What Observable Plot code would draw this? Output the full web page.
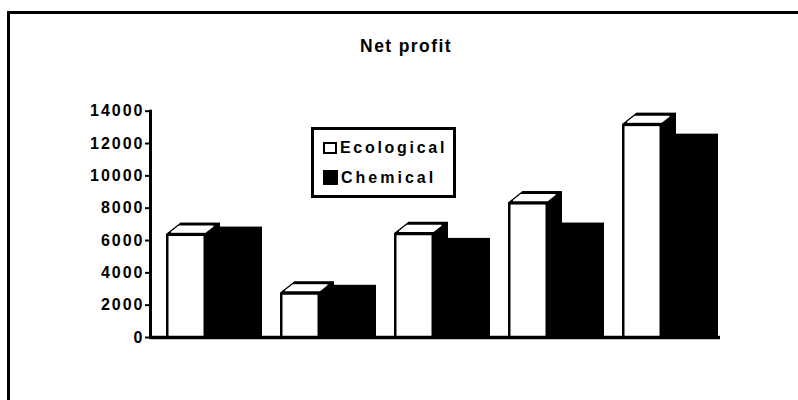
<!DOCTYPE html>
<html>
<head>
<meta charset="utf-8">
<script src="https://cdn.jsdelivr.net/npm/d3@7"></script>
<script src="https://cdn.jsdelivr.net/npm/@observablehq/plot@0.6"></script>
<style>
  body { margin: 0; background: #fff; }
  #wrap { position: relative; width: 798px; height: 400px; overflow: hidden;
          font-family: "Liberation Sans", Arial, sans-serif; font-weight: bold; color: #000; }
  #chart { position: absolute; left: 0; top: 0; }
  #chart svg text { letter-spacing: 2px; }
  .border { position: absolute; left: 7px; top: 11px; right: -10px; bottom: -10px;
            border-top: 3px solid #000; border-left: 3px solid #000; pointer-events: none; }
  .title { position: absolute; left: 306px; width: 200px; top: 36.6px; text-align: center;
           font-size: 17.5px; line-height: 18px; letter-spacing: 1.4px; white-space: nowrap; }
  .legend { position: absolute; left: 311px; top: 127px; width: 145px; height: 71px;
            box-sizing: border-box; border: 3px solid #000; background: #fff; }
  .sw { position: absolute; box-sizing: border-box; }
  .lt { position: absolute; font-size: 16px; line-height: 16px; white-space: nowrap; }
</style>
</head>
<body>
<div id="wrap">
  <div id="chart"></div>
  <div class="border"></div>
  <div class="title" id="title"></div>
  <div class="legend"></div>
  <div class="sw" style="left:323px;top:141.5px;width:14px;height:12.5px;border:2px solid #000;background:#fff"></div>
  <div class="lt" id="lab0" style="left:340px;top:139.8px;letter-spacing:2.7px"></div>
  <div class="sw" style="left:323px;top:169.5px;width:15px;height:15px;background:#000"></div>
  <div class="lt" id="lab1" style="left:341px;top:169.5px;letter-spacing:3px"></div>
</div>
<script>
const titleText = "Net profit";
const groups = ["1", "2", "3", "4", "5"];
const seriesNames = ["Ecological", "Chemical"];
const ecological = [6400, 2770, 6450, 8350, 13200];
const chemical = [6150, 2550, 5450, 6400, 11900];
const yTicks = [0, 2000, 4000, 6000, 8000, 10000, 12000, 14000];

document.getElementById("title").textContent = titleText;
document.getElementById("lab0").textContent = seriesNames[0];
document.getElementById("lab1").textContent = seriesNames[1];

const eco = groups.map((g, i) => ({group: g, series: seriesNames[0], value: ecological[i]}));
const chem = groups.map((g, i) => ({group: g, series: seriesNames[1], value: chemical[i]}));

// 3D depth (pixels) – style only
const DX = 14, DY = 11;
const steps = d3.range(0, DX + 1);
const ecoIns = {insetLeft: 16, insetRight: 58};
const chemIns = {insetLeft: 56, insetRight: 16};

const marks = [];
// dark prisms (side + top silhouette) for both series
for (const k of steps) {
  marks.push(Plot.barY(eco, {x: "group", y: "value", fill: "#000", ...ecoIns, dx: k, dy: -k * DY / DX}));
}
for (const k of steps) {
  marks.push(Plot.barY(chem, {x: "group", y: "value", fill: "#000", ...chemIns, dx: k, dy: -k * DY / DX}));
}
marks.push(Plot.barY(chem, {x: "group", y: "value", fill: "#000", insetLeft: 56, insetRight: 2}));
// white top face of ecological bars
for (const k of d3.range(2.5, 10.01, 0.5)) {
  marks.push(Plot.tickY(eco, {x: "group", y: "value", stroke: "#fff", strokeWidth: 1.2,
    insetLeft: ecoIns.insetLeft + 2.5, insetRight: ecoIns.insetRight + 2.5, dx: k, dy: -k * DY / DX}));
}
// white front face of ecological bars
marks.push(Plot.barY(eco, {x: "group", y: "value", fill: "#fff",
  insetLeft: ecoIns.insetLeft + 2.5, insetRight: ecoIns.insetRight + 2.5, insetTop: 2.5}));
// axes
marks.push(Plot.ruleY([0], {strokeWidth: 3.5}));
marks.push(Plot.frame({anchor: "left", strokeWidth: 3}));
marks.push(Plot.axisY({ticks: yTicks, tickSize: 5, tickPadding: 1, strokeWidth: 2,
  tickFormat: d3.format("d"), fontSize: 16, fontWeight: "bold", label: null}));

const chart = Plot.plot({
  width: 798,
  height: 400,
  marginLeft: 150,
  marginRight: 78,
  marginTop: 110.7,
  marginBottom: 63,
  style: {fontFamily: "'Liberation Sans', Arial, sans-serif", background: "#fff", color: "#000", overflow: "visible"},
  x: {domain: groups, padding: 0, axis: null},
  y: {domain: [0, 14000], axis: null},
  marks
});
document.getElementById("chart").appendChild(chart);
</script>
</body>
</html>
